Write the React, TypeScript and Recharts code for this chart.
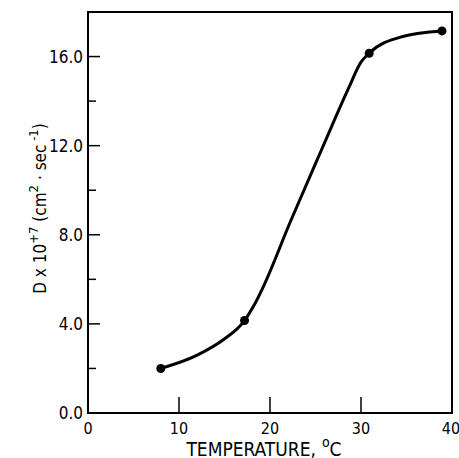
import {
  ComposedChart,
  Line,
  Scatter,
  XAxis,
  YAxis,
  ReferenceArea,
} from 'recharts';

const FONT = "'DejaVu Sans Condensed', 'Liberation Sans Narrow', 'DejaVu Sans', sans-serif";

// measured points: temperature (°C) vs D x 10^7
const tempC = [8, 17.2, 30.9, 38.9];
const diffusion = [2.0, 4.15, 16.15, 17.15];

// the drawn curve through the points
const curveTemp = [8, 12, 14.9, 17.2, 18.2, 19.3, 22.2, 25.7, 28.6, 30.0, 30.9, 34.6, 38.9];
const curveD = [2.0, 2.6, 3.3, 4.15, 4.8, 5.7, 8.55, 11.85, 14.55, 15.75, 16.15, 16.9, 17.15];

const xTicks = [0, 10, 20, 30, 40];
const yTicks = [0, 2, 4, 6, 8, 10, 12, 14, 16];
const xDomain: [number, number] = [0, 40];
const yDomain: [number, number] = [0, 18];

const points = tempC.map((t, i) => ({ t, d: diffusion[i] }));
const curve = curveTemp.map((t, i) => ({ t, d: curveD[i] }));

function XTick({ x, y, payload }: any) {
  const v = payload.value;
  const inner = v > xDomain[0] && v < xDomain[1];
  return (
    <g>
      {inner && <line x1={x} y1={y} x2={x} y2={y - 16} stroke="#000" strokeWidth={1.5} />}
      <text
        x={x}
        y={y + 21}
        textAnchor="middle"
        fontFamily={FONT}
        fontStretch="condensed"
        fontSize={16}
        fill="#000"
      >
        {v}
      </text>
    </g>
  );
}

function YTick({ x, y, payload }: any) {
  const v = payload.value;
  const major = v % 4 === 0;
  return (
    <g>
      {v > 0 && (
        <line x1={x} y1={y} x2={x + (major ? 12 : 8)} y2={y} stroke="#000" strokeWidth={1.5} />
      )}
      {major && (
        <text
          x={x - 5}
          y={y + 6}
          textAnchor="end"
          fontFamily={FONT}
          fontStretch="condensed"
          fontSize={17}
          fill="#000"
        >
          {v.toFixed(1)}
        </text>
      )}
    </g>
  );
}

function YTitle({ viewBox }: any) {
  const vb = viewBox ?? { x: 20, y: 12, width: 68, height: 401 };
  const cx = vb.x + 26;
  const cy = vb.y + vb.height / 2 - 4;
  return (
    <text
      x={cx}
      y={cy}
      transform={`rotate(-90, ${cx}, ${cy})`}
      textAnchor="middle"
      fontFamily={FONT}
      fontStretch="condensed"
      fontSize={17}
      fill="#000"
    >
      D x 10
      <tspan dy={-8} fontSize={13}>+7</tspan>
      <tspan dy={8}> (cm</tspan>
      <tspan dy={-8} fontSize={13}>2</tspan>
      <tspan dy={8}> · sec</tspan>
      <tspan dy={-8} fontSize={13}> -1</tspan>
      <tspan dy={8}>)</tspan>
    </text>
  );
}

function XTitle({ viewBox }: any) {
  const vb = viewBox ?? { x: 88, y: 413, width: 364, height: 45 };
  const cx = vb.x + vb.width / 2 - 6;
  const cy = vb.y + 42.5;
  return (
    <text
      x={cx}
      y={cy}
      textAnchor="middle"
      fontFamily={FONT}
      fontStretch="condensed"
      fontSize={19}
      fill="#000"
    >
      TEMPERATURE,
      <tspan dx={6} dy={-9} fontSize={14}>o</tspan>
      <tspan dy={9}>C</tspan>
    </text>
  );
}

export default function App() {
  return (
    <div style={{ position: 'absolute', left: 0, top: 0, background: '#fff' }}>
      <ComposedChart
        width={459}
        height={458}
        margin={{ top: 12, right: 7, bottom: 0, left: 20 }}
      >
        <XAxis
          type="number"
          dataKey="t"
          domain={xDomain}
          ticks={xTicks}
          allowDataOverflow
          axisLine={false}
          tickLine={false}
          tickSize={0}
          tickMargin={0}
          height={45}
          tick={<XTick />}
          label={<XTitle />}
        />
        <YAxis
          type="number"
          dataKey="d"
          domain={yDomain}
          ticks={yTicks}
          allowDataOverflow
          axisLine={false}
          tickLine={false}
          tickSize={0}
          tickMargin={0}
          width={68}
          tick={<YTick />}
          label={<YTitle />}
        />
        <ReferenceArea
          x1={xDomain[0]}
          x2={xDomain[1]}
          y1={yDomain[0]}
          y2={yDomain[1]}
          fill="none"
          fillOpacity={0}
          stroke="#000"
          strokeWidth={2}
        />
        <Line
          data={curve}
          dataKey="d"
          type="monotone"
          stroke="#000"
          strokeWidth={3}
          dot={false}
          activeDot={false}
          isAnimationActive={false}
        />
        <Scatter
          data={points}
          dataKey="d"
          fill="#000"
          isAnimationActive={false}
          shape={(p: any) => <circle cx={p.cx} cy={p.cy} r={4.5} fill="#000" />}
        />
      </ComposedChart>
    </div>
  );
}
